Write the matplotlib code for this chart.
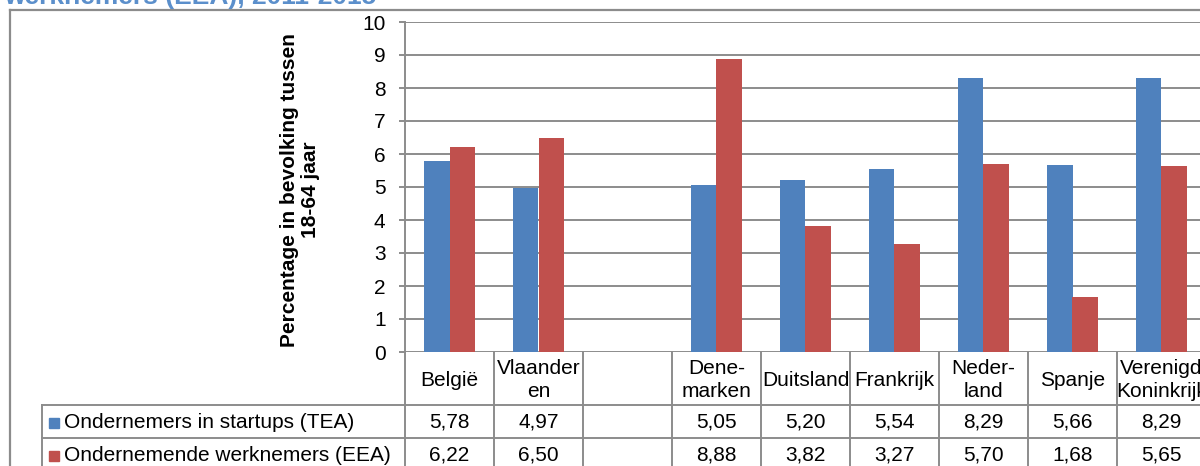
'''
Startups (TEA) en ondernemende werknemers (EEA) per land, staafdiagram met datatabel
'''
import numpy as np
import matplotlib.pyplot as plt
from matplotlib.lines import Line2D
import matplotlib.transforms as mtransforms

plt.rcParams['font.family'] = ['Liberation Sans', 'DejaVu Sans']

# data
landen = ['België', 'Vlaander\nen', '', 'Dene-\nmarken', 'Duitsland', 'Frankrijk',
          'Neder-\nland', 'Spanje', 'Verenigd\nKoninkrijk']
tea = [5.78, 4.97, np.nan, 5.05, 5.20, 5.54, 8.29, 5.66, 8.29]
eea = [6.22, 6.50, np.nan, 8.88, 3.82, 3.27, 5.70, 1.68, 5.65]
tea_txt = ['5,78', '4,97', '', '5,05', '5,20', '5,54', '8,29', '5,66', '8,29']
eea_txt = ['6,22', '6,50', '', '8,88', '3,82', '3,27', '5,70', '1,68', '5,65']
reeks = ['Ondernemers in startups (TEA)', 'Ondernemende werknemers (EEA)']
kleuren = ['#4F81BD', '#C0504D']

W, H = 1200, 466
GRIJS = '#8c8c8c'
FS = 15


def fy(py):
    '''pixel van boven -> figuurfractie'''
    return 1 - py / H


def fx(px):
    return px / W


fig = plt.figure(figsize=(W / 100, H / 100), dpi=100)
ax = fig.add_axes([fx(405), fy(352), fx(801), 330 / H])

x = np.arange(len(landen))
bw = 0.29
ax.bar(x - bw / 2, tea, bw, color=kleuren[0], zorder=3)
ax.bar(x + bw / 2, eea, bw, color=kleuren[1], zorder=3)

ax.set_xlim(-0.5, len(landen) - 0.5)
ax.set_ylim(0, 10)
ax.set_yticks(range(11))
ax.yaxis.grid(True, color=GRIJS, lw=1.4, zorder=0)
ax.set_axisbelow(True)
ax.set_xticks([])
for s in ['top', 'right', 'bottom']:
    ax.spines[s].set_visible(False)
ax.spines['left'].set_color(GRIJS)
ax.spines['left'].set_linewidth(1.4)
ax.tick_params(axis='y', colors=GRIJS, length=4, width=1.4, pad=10,
               labelcolor='black', labelsize=FS)

fig.text(fx(300), fy(190), 'Percentage in bevolking tussen\n18-64 jaar',
         rotation=90, ha='center', va='center', fontsize=FS,
         fontweight='bold', linespacing=1.15)

# datatabel onder de as
tr = mtransforms.blended_transform_factory(ax.transData, fig.transFigure)
rij_top = [352, 405, 438, 471]

for i in range(len(landen) + 1):
    ax.add_line(Line2D([i - 0.5, i - 0.5], [fy(352), fy(472)], transform=tr,
                       color=GRIJS, lw=1.4, clip_on=False))
for py in rij_top[1:]:
    fig.add_artist(Line2D([fx(42), 1.0], [fy(py), fy(py)], color=GRIJS, lw=1.4))
fig.add_artist(Line2D([fx(42), fx(42)], [fy(405), fy(472)], color=GRIJS, lw=1.4))

for i, lab in enumerate(landen):
    ax.text(i, fy(380), lab, transform=tr, ha='center', va='center',
            fontsize=FS, linespacing=1.3, clip_on=False)
    ax.text(i, fy(422), tea_txt[i], transform=tr, ha='center', va='center',
            fontsize=FS, clip_on=False)
    ax.text(i, fy(455), eea_txt[i], transform=tr, ha='center', va='center',
            fontsize=FS, clip_on=False)

for r, (naam, kl) in enumerate(zip(reeks, kleuren)):
    yc = (rij_top[r + 1] + rij_top[r + 2]) / 2 + 1
    fig.patches.append(plt.Rectangle((fx(49), fy(yc + 5)), fx(10), 10 / H,
                                     color=kl, transform=fig.transFigure))
    fig.text(fx(64), fy(yc), naam, ha='left', va='center', fontsize=FS)

# kader en (afgesneden) titel
fig.add_artist(Line2D([fx(10), 1.0], [fy(10), fy(10)], color=GRIJS, lw=1.6))
fig.add_artist(Line2D([fx(10), fx(10)], [fy(10), 0], color=GRIJS, lw=1.6))
fig.text(fx(4), fy(4), 'werknemers (EEA), 2011-2015', ha='left', va='baseline',
         fontsize=19, fontweight='bold', color='#5B8FCB')

fig.savefig('out.png', dpi=100)
